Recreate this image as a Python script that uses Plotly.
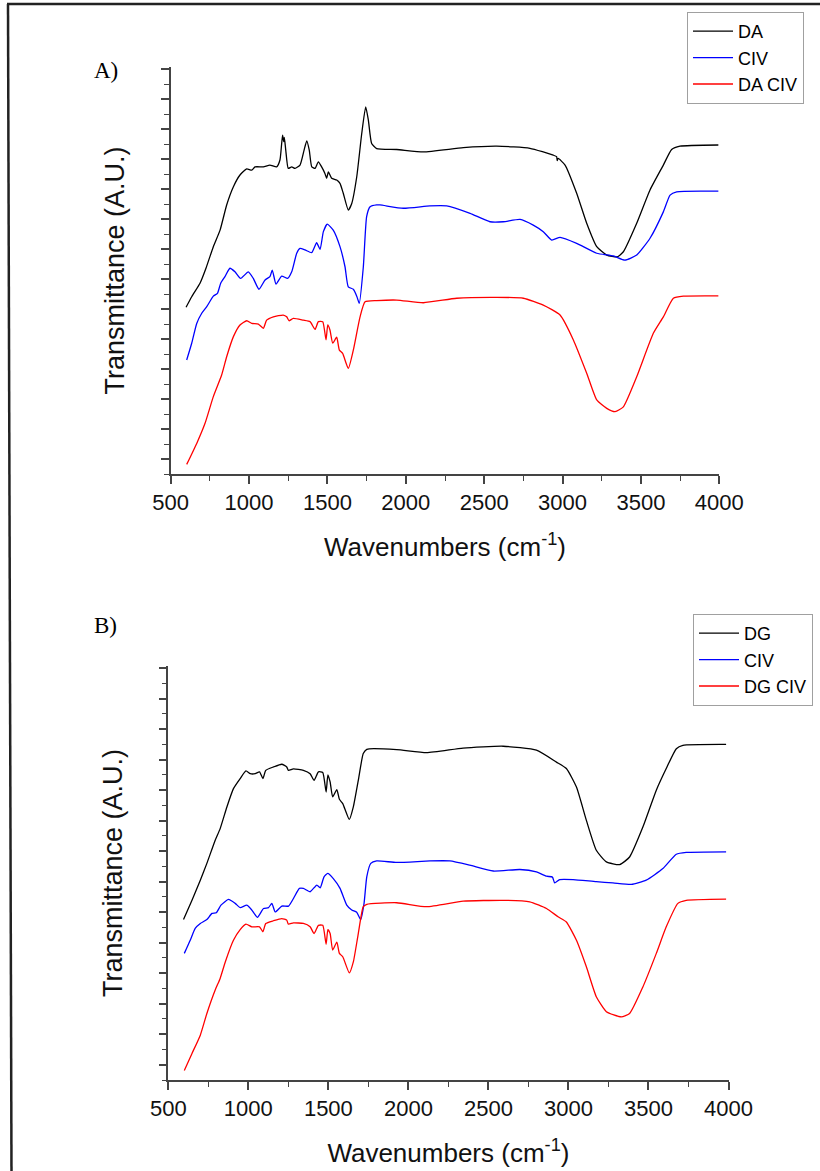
import plotly.graph_objects as go

# ---------------- Panel A data (wavenumber cm-1, transmittance A.U.) ----------------
a_da_wn = [598, 634, 687, 725, 772, 815, 857, 900, 942, 985, 1017, 1038, 1091, 1133, 1176,
           1197, 1208, 1214, 1221, 1225, 1234, 1250, 1272, 1293, 1325, 1351, 1368, 1384, 1400,
           1421, 1442, 1463, 1484, 1495, 1506, 1527, 1559, 1580, 1601, 1633, 1655, 1687, 1719,
           1744, 1761, 1782, 1814, 1942, 2112, 2367, 2580, 2792, 2941, 2962, 2966, 2972, 3016,
           3090, 3154, 3218, 3282, 3349, 3388, 3473, 3558, 3643, 3696, 3749, 3994]
a_da_t = [5.56, 5.91, 6.36, 6.86, 7.58, 8.13, 8.97, 9.58, 9.97, 10.17, 10.13, 10.24, 10.24, 10.30, 10.24,
          10.47, 11.02, 11.30, 11.08, 11.22, 10.80, 10.19, 10.24, 10.19, 10.30, 10.80, 11.11, 10.80, 10.24,
          10.19, 10.41, 10.24, 10.02, 9.86, 10.07, 9.86, 9.80, 9.69, 9.36, 8.80, 9.02, 9.91, 11.36,
          12.24, 11.80, 11.02, 10.85, 10.82, 10.74, 10.88, 10.93, 10.86, 10.63, 10.58, 10.45, 10.52, 10.30,
          9.36, 8.36, 7.58, 7.30, 7.24, 7.41, 8.36, 9.47, 10.30, 10.82, 10.93, 10.97]

a_civ_wn = [602, 634, 666, 698, 730, 772, 798, 819, 846, 878, 910, 946, 995, 1027, 1063, 1102, 1133,
            1148, 1172, 1208, 1246, 1272, 1304, 1325, 1357, 1400, 1431, 1453, 1474, 1499, 1537, 1580,
            1612, 1633, 1665, 1687, 1703, 1729, 1750, 1772, 1814, 1835, 1984, 2154, 2261, 2410, 2537,
            2622, 2729, 2813, 2877, 2931, 2984, 3090, 3218, 3324, 3398, 3473, 3558, 3643, 3686, 3728, 3994]
a_civ_t = [3.80, 4.36, 5.02, 5.36, 5.58, 5.93, 6.02, 6.36, 6.58, 6.86, 6.74, 6.52, 6.74, 6.52, 6.16, 6.47, 6.58,
           6.80, 6.33, 6.60, 6.52, 6.74, 7.36, 7.52, 7.47, 7.38, 7.71, 7.49, 8.08, 8.33, 8.13, 7.58,
           6.91, 6.24, 6.16, 5.93, 5.69, 6.91, 8.58, 8.91, 8.97, 8.97, 8.86, 8.94, 8.94, 8.69, 8.41,
           8.41, 8.49, 8.30, 8.08, 7.80, 7.89, 7.69, 7.36, 7.27, 7.13, 7.30, 7.86, 8.74, 9.30, 9.41, 9.43]

a_daciv_wn = [602, 666, 719, 772, 825, 857, 900, 942, 985, 1017, 1059, 1091, 1112, 1155, 1218, 1240,
              1255, 1282, 1346, 1389, 1421, 1442, 1470, 1491, 1502, 1516, 1534, 1559, 1576, 1597, 1633,
              1665, 1708, 1740, 1814, 1942, 2112, 2325, 2580, 2750, 2877, 2984, 3069, 3154, 3218, 3282,
              3335, 3388, 3473, 3579, 3643, 3707, 3771, 3994]
a_daciv_t = [0.32, 1.02, 1.69, 2.58, 3.30, 3.91, 4.58, 4.97, 5.11, 5.02, 5.00, 4.86, 5.13, 5.24, 5.30, 5.24,
             5.11, 5.19, 5.13, 5.08, 4.82, 5.08, 5.08, 4.47, 4.97, 4.80, 4.36, 4.56, 4.13, 4.02, 3.52,
             4.13, 5.24, 5.74, 5.78, 5.80, 5.71, 5.86, 5.89, 5.86, 5.63, 5.30, 4.47, 3.36, 2.47, 2.19,
             2.08, 2.24, 3.24, 4.69, 5.24, 5.86, 5.93, 5.94]

# ---------------- Panel B data ----------------
b_dg_wn = [595, 648, 700, 741, 793, 824, 866, 907, 949, 985, 1012, 1043, 1070, 1091, 1109, 1157, 1209,
           1240, 1250, 1282, 1344, 1386, 1411, 1438, 1465, 1486, 1497, 1511, 1527, 1553, 1569, 1590,
           1631, 1656, 1687, 1718, 1740, 1927, 2114, 2342, 2592, 2800, 2925, 2987, 3050, 3112, 3174,
           3237, 3320, 3382, 3465, 3549, 3611, 3674, 3715, 3985]
b_dg_t = [5.26, 5.89, 6.55, 7.10, 7.86, 8.24, 8.95, 9.55, 9.88, 10.13, 10.04, 10.04, 10.10, 9.88, 10.15, 10.26, 10.35,
          10.26, 10.15, 10.20, 10.15, 10.04, 9.82, 10.10, 10.08, 9.44, 10.00, 9.77, 9.28, 9.52, 9.20, 9.06,
          8.54, 8.95, 9.82, 10.70, 10.84, 10.83, 10.73, 10.88, 10.94, 10.81, 10.42, 10.21, 9.60, 8.51, 7.53,
          7.15, 7.06, 7.31, 8.29, 9.50, 10.21, 10.86, 10.97, 11.00]

b_civ_wn = [600, 637, 668, 700, 741, 773, 800, 829, 876, 918, 949, 991, 1022, 1057, 1095, 1126, 1147,
            1168, 1209, 1251, 1282, 1319, 1344, 1386, 1428, 1449, 1473, 1496, 1531, 1573, 1615, 1646,
            1677, 1702, 1723, 1740, 1765, 1802, 1927, 2135, 2259, 2384, 2530, 2696, 2800, 2863, 2900,
            2914, 2945, 3029, 3174, 3278, 3393, 3486, 3590, 3674, 3736, 3985]
b_civ_t = [4.15, 4.58, 4.97, 5.13, 5.26, 5.46, 5.48, 5.73, 5.92, 5.79, 5.65, 5.73, 5.57, 5.33, 5.62, 5.65, 5.79,
           5.51, 5.70, 5.70, 5.95, 6.28, 6.28, 6.17, 6.39, 6.30, 6.66, 6.77, 6.60, 6.28, 5.73, 5.57,
           5.50, 5.26, 5.79, 6.66, 7.10, 7.18, 7.13, 7.18, 7.18, 7.04, 6.85, 6.90, 6.82, 6.68, 6.65,
           6.46, 6.57, 6.57, 6.50, 6.46, 6.41, 6.55, 6.93, 7.40, 7.46, 7.48]

b_dgciv_wn = [600, 648, 700, 741, 793, 824, 856, 907, 949, 985, 1022, 1070, 1091, 1109, 1157, 1209, 1240,
              1250, 1282, 1344, 1386, 1411, 1438, 1465, 1486, 1497, 1511, 1527, 1553, 1569, 1590, 1631,
              1656, 1687, 1718, 1740, 1927, 2114, 2342, 2592, 2758, 2863, 2935, 2987, 3050, 3112, 3174,
              3237, 3330, 3382, 3465, 3549, 3611, 3684, 3736, 3985]
b_dgciv_t = [0.31, 0.87, 1.47, 2.18, 2.95, 3.33, 3.87, 4.58, 4.93, 5.11, 5.02, 5.02, 4.86, 5.13, 5.22, 5.29, 5.24,
             5.11, 5.15, 5.13, 5.02, 4.80, 5.07, 5.07, 4.45, 4.93, 4.80, 4.26, 4.52, 4.15, 4.04, 3.51,
             3.87, 4.80, 5.68, 5.76, 5.81, 5.68, 5.86, 5.89, 5.84, 5.62, 5.35, 5.18, 4.58, 3.71, 2.73,
             2.24, 2.07, 2.18, 3.05, 4.15, 5.02, 5.79, 5.89, 5.93]

names_a = ["DA", "CIV", "DA CIV"]
names_b = ["DG", "CIV", "DG CIV"]
colors = ["#000000", "#0000ff", "#ff0000"]
x_ticks = [500, 1000, 1500, 2000, 2500, 3000, 3500, 4000]
x_title = "Wavenumbers (cm<sup>-1</sup>)"
y_title = "Transmittance (A.U.)"

W, H = 820, 1171
fig = go.Figure()

series_a = [(a_da_wn, a_da_t), (a_civ_wn, a_civ_t), (a_daciv_wn, a_daciv_t)]
series_b = [(b_dg_wn, b_dg_t), (b_civ_wn, b_civ_t), (b_dgciv_wn, b_dgciv_t)]

for (xs, ys), nm, c in zip(series_a, names_a, colors):
    fig.add_trace(go.Scatter(x=xs, y=ys, mode="lines", name=nm,
                             line=dict(color=c, width=1.3, shape="spline", smoothing=0.5),
                             xaxis="x", yaxis="y", legend="legend"))
for (xs, ys), nm, c in zip(series_b, names_b, colors):
    fig.add_trace(go.Scatter(x=xs, y=ys, mode="lines", name=nm,
                             line=dict(color=c, width=1.3, shape="spline", smoothing=0.5),
                             xaxis="x2", yaxis="y2", legend="legend2"))

axcol = "#444444"
font_main = "Liberation Sans, Arial, sans-serif"


def xax(domain, anchor):
    return dict(domain=domain, anchor=anchor, range=[500, 4000], tickvals=x_ticks,
                ticks="outside", ticklen=8, tickwidth=1.5, tickcolor=axcol,
                minor=dict(dtick=250, tick0=500, ticks="outside", ticklen=5, tickwidth=1.3, tickcolor=axcol),
                showline=True, linecolor=axcol, linewidth=1.6, showgrid=False, zeroline=False,
                tickfont=dict(family=font_main, size=22, color="#111111"),
                title=dict(text=x_title, font=dict(family=font_main, size=26, color="#111111"), standoff=24),
                automargin=False)


def yax(domain, anchor):
    return dict(domain=domain, anchor=anchor, range=[0, 13.57], tickmode="linear", tick0=0.5, dtick=1,
                ticks="outside", ticklen=8, tickwidth=1.5, tickcolor=axcol, showticklabels=False,
                minor=dict(dtick=0.5, tick0=0, ticks="outside", ticklen=5, tickwidth=1.3, tickcolor=axcol),
                showline=True, linecolor=axcol, linewidth=1.6, showgrid=False, zeroline=False,
                title=dict(text=y_title, font=dict(family=font_main, size=27, color="#111111"), standoff=28),
                automargin=False)


legend_common = dict(bgcolor="white", bordercolor="#a0a0a0", borderwidth=1,
                     font=dict(family=font_main, size=18, color="#000000"),
                     xanchor="left", yanchor="top", tracegroupgap=0, itemwidth=40)

fig.update_layout(
    width=W, height=H,
    margin=dict(l=0, r=0, t=0, b=0),
    paper_bgcolor="white", plot_bgcolor="white",
    showlegend=True,
    xaxis=xax([170.7 / W, 719.3 / W], "y"),
    yaxis=yax([1 - 474 / H, 1 - 67 / H], "x"),
    xaxis2=xax([168.3 / W, 728.5 / W], "y2"),
    yaxis2=yax([1 - 1080 / H, 1 - 666 / H], "x2"),
    legend=dict(x=687 / W, y=1 - 12 / H, **legend_common),
    legend2=dict(x=693 / W, y=1 - 614 / H, **legend_common),
    annotations=[
        dict(text="A)", xref="paper", yref="paper", x=92 / W, y=1 - 70 / H, xanchor="left", yanchor="middle",
             showarrow=False, font=dict(family="Liberation Serif, Times New Roman, serif", size=23, color="#000")),
        dict(text="B)", xref="paper", yref="paper", x=92 / W, y=1 - 625 / H, xanchor="left", yanchor="middle",
             showarrow=False, font=dict(family="Liberation Serif, Times New Roman, serif", size=23, color="#000")),
    ],
    shapes=[
        dict(type="line", xref="paper", yref="paper", x0=7 / W, y0=1 - 4 / H, x1=1.0, y1=1 - 4 / H,
             line=dict(color="#222222", width=2.5)),
        dict(type="line", xref="paper", yref="paper", x0=8 / W, y0=1 - 4 / H, x1=11.5 / W, y1=0,
             line=dict(color="#222222", width=2.5)),
    ],
)

fig.write_html("out.html", config={"displayModeBar": False},
               post_script="document.body.style.margin='0';document.body.style.overflow='hidden';")
